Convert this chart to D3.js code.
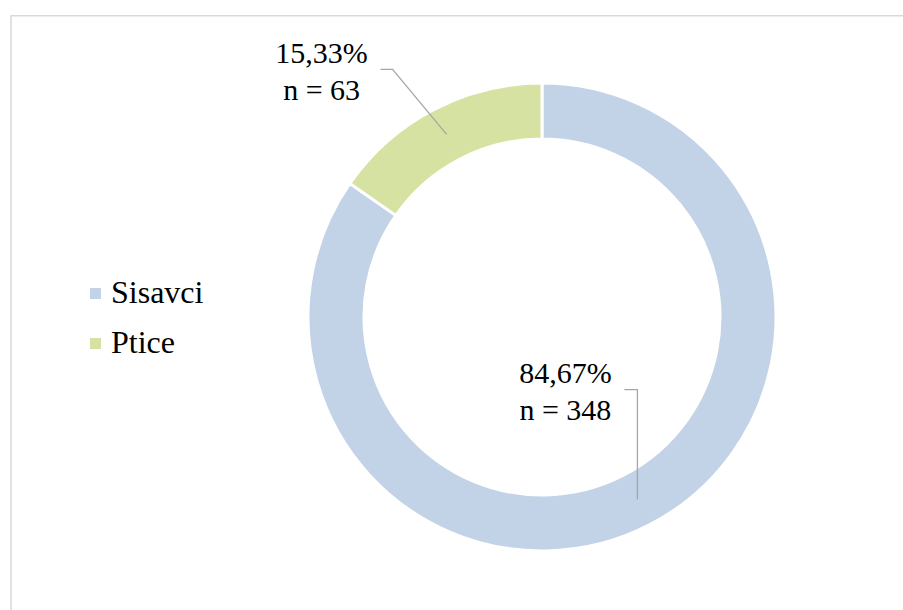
<!DOCTYPE html>
<html>
<head>
<meta charset="utf-8">
<script src="https://cdn.jsdelivr.net/npm/d3@7"></script>
<style>
  body { margin: 0; background: #fff; }
</style>
</head>
<body>
<div id="chart"></div>
<script>
// animal groups and their counts
const categories = ['Sisavci', 'Ptice'];
const counts = [348, 63];
const colors = ['#c2d3e7', '#d6e2a2'];

const width = 903, height = 610;
const cx = 542, cy = 317;
const outerR = 234, innerR = 178;
const serif = "'Liberation Serif', 'Times New Roman', serif";

const total = d3.sum(counts);
const slices = categories.map((c, i) => ({name: c, value: counts[i], color: colors[i]}));

// label offset relative to the slice centroid (label center x, first baseline y)
const labelPos = {
    'Sisavci': {dx: -72, dy: -117, elbowY: -110, arm: 13},
    'Ptice': {dx: -125, dy: -71, elbowX: -54, elbowY: -65, arm: 12}
};

const fmtPct = v => d3.format('.2f')(v * 100).replace('.', ',') + '%';

const svg = d3.select('#chart')
    .append('svg')
    .attr('width', width)
    .attr('height', height)
    .style('font-family', serif);

// chart border (runs off the page on right and bottom)
svg.append('rect')
    .attr('x', 11)
    .attr('y', 15.75)
    .attr('width', 1000)
    .attr('height', 1000)
    .attr('fill', 'none')
    .attr('stroke', '#d9d9d9')
    .attr('stroke-width', 1.5);

const pie = d3.pie().sort(null).value(d => d.value);
const arc = d3.arc().innerRadius(innerR).outerRadius(outerR);

const g = svg.append('g')
    .attr('transform', 'translate(' + cx + ',' + cy + ')');

const arcs = pie(slices);

g.selectAll('path')
    .data(arcs)
    .enter()
    .append('path')
    .attr('d', arc)
    .attr('fill', d => d.data.color)
    .attr('stroke', '#fff')
    .attr('stroke-width', 3);

// leader lines + labels
arcs.forEach(function(d) {
    const c = arc.centroid(d);
    const p = labelPos[d.data.name];
    const ex = c[0] + (p.elbowX || 0), ey = c[1] + p.elbowY;
    const pts = [[ex - p.arm, ey], [ex, ey], c];
    g.append('path')
        .attr('d', d3.line()(pts))
        .attr('fill', 'none')
        .attr('stroke', '#a6a6a6')
        .attr('stroke-width', 1.3);

    const t = g.append('text')
        .attr('text-anchor', 'middle')
        .style('font-family', serif)
        .attr('font-size', '30px');
    t.append('tspan')
        .attr('x', c[0] + p.dx)
        .attr('y', c[1] + p.dy)
        .text(fmtPct(d.data.value / total));
    t.append('tspan')
        .attr('x', c[0] + p.dx)
        .attr('y', c[1] + p.dy + 37)
        .text('n = ' + d.data.value);
});

// legend
const legend = svg.append('g')
    .attr('transform', 'translate(90,288)');

const items = legend.selectAll('g')
    .data(slices)
    .enter()
    .append('g')
    .attr('transform', (d, i) => 'translate(0,' + (i * 50) + ')');

items.append('rect')
    .attr('width', 11)
    .attr('height', 11)
    .attr('fill', d => d.color);

items.append('text')
    .attr('x', 21)
    .attr('y', 15)
    .style('font-family', serif)
    .attr('font-size', '32px')
    .text(d => d.name);
</script>
</body>
</html>
